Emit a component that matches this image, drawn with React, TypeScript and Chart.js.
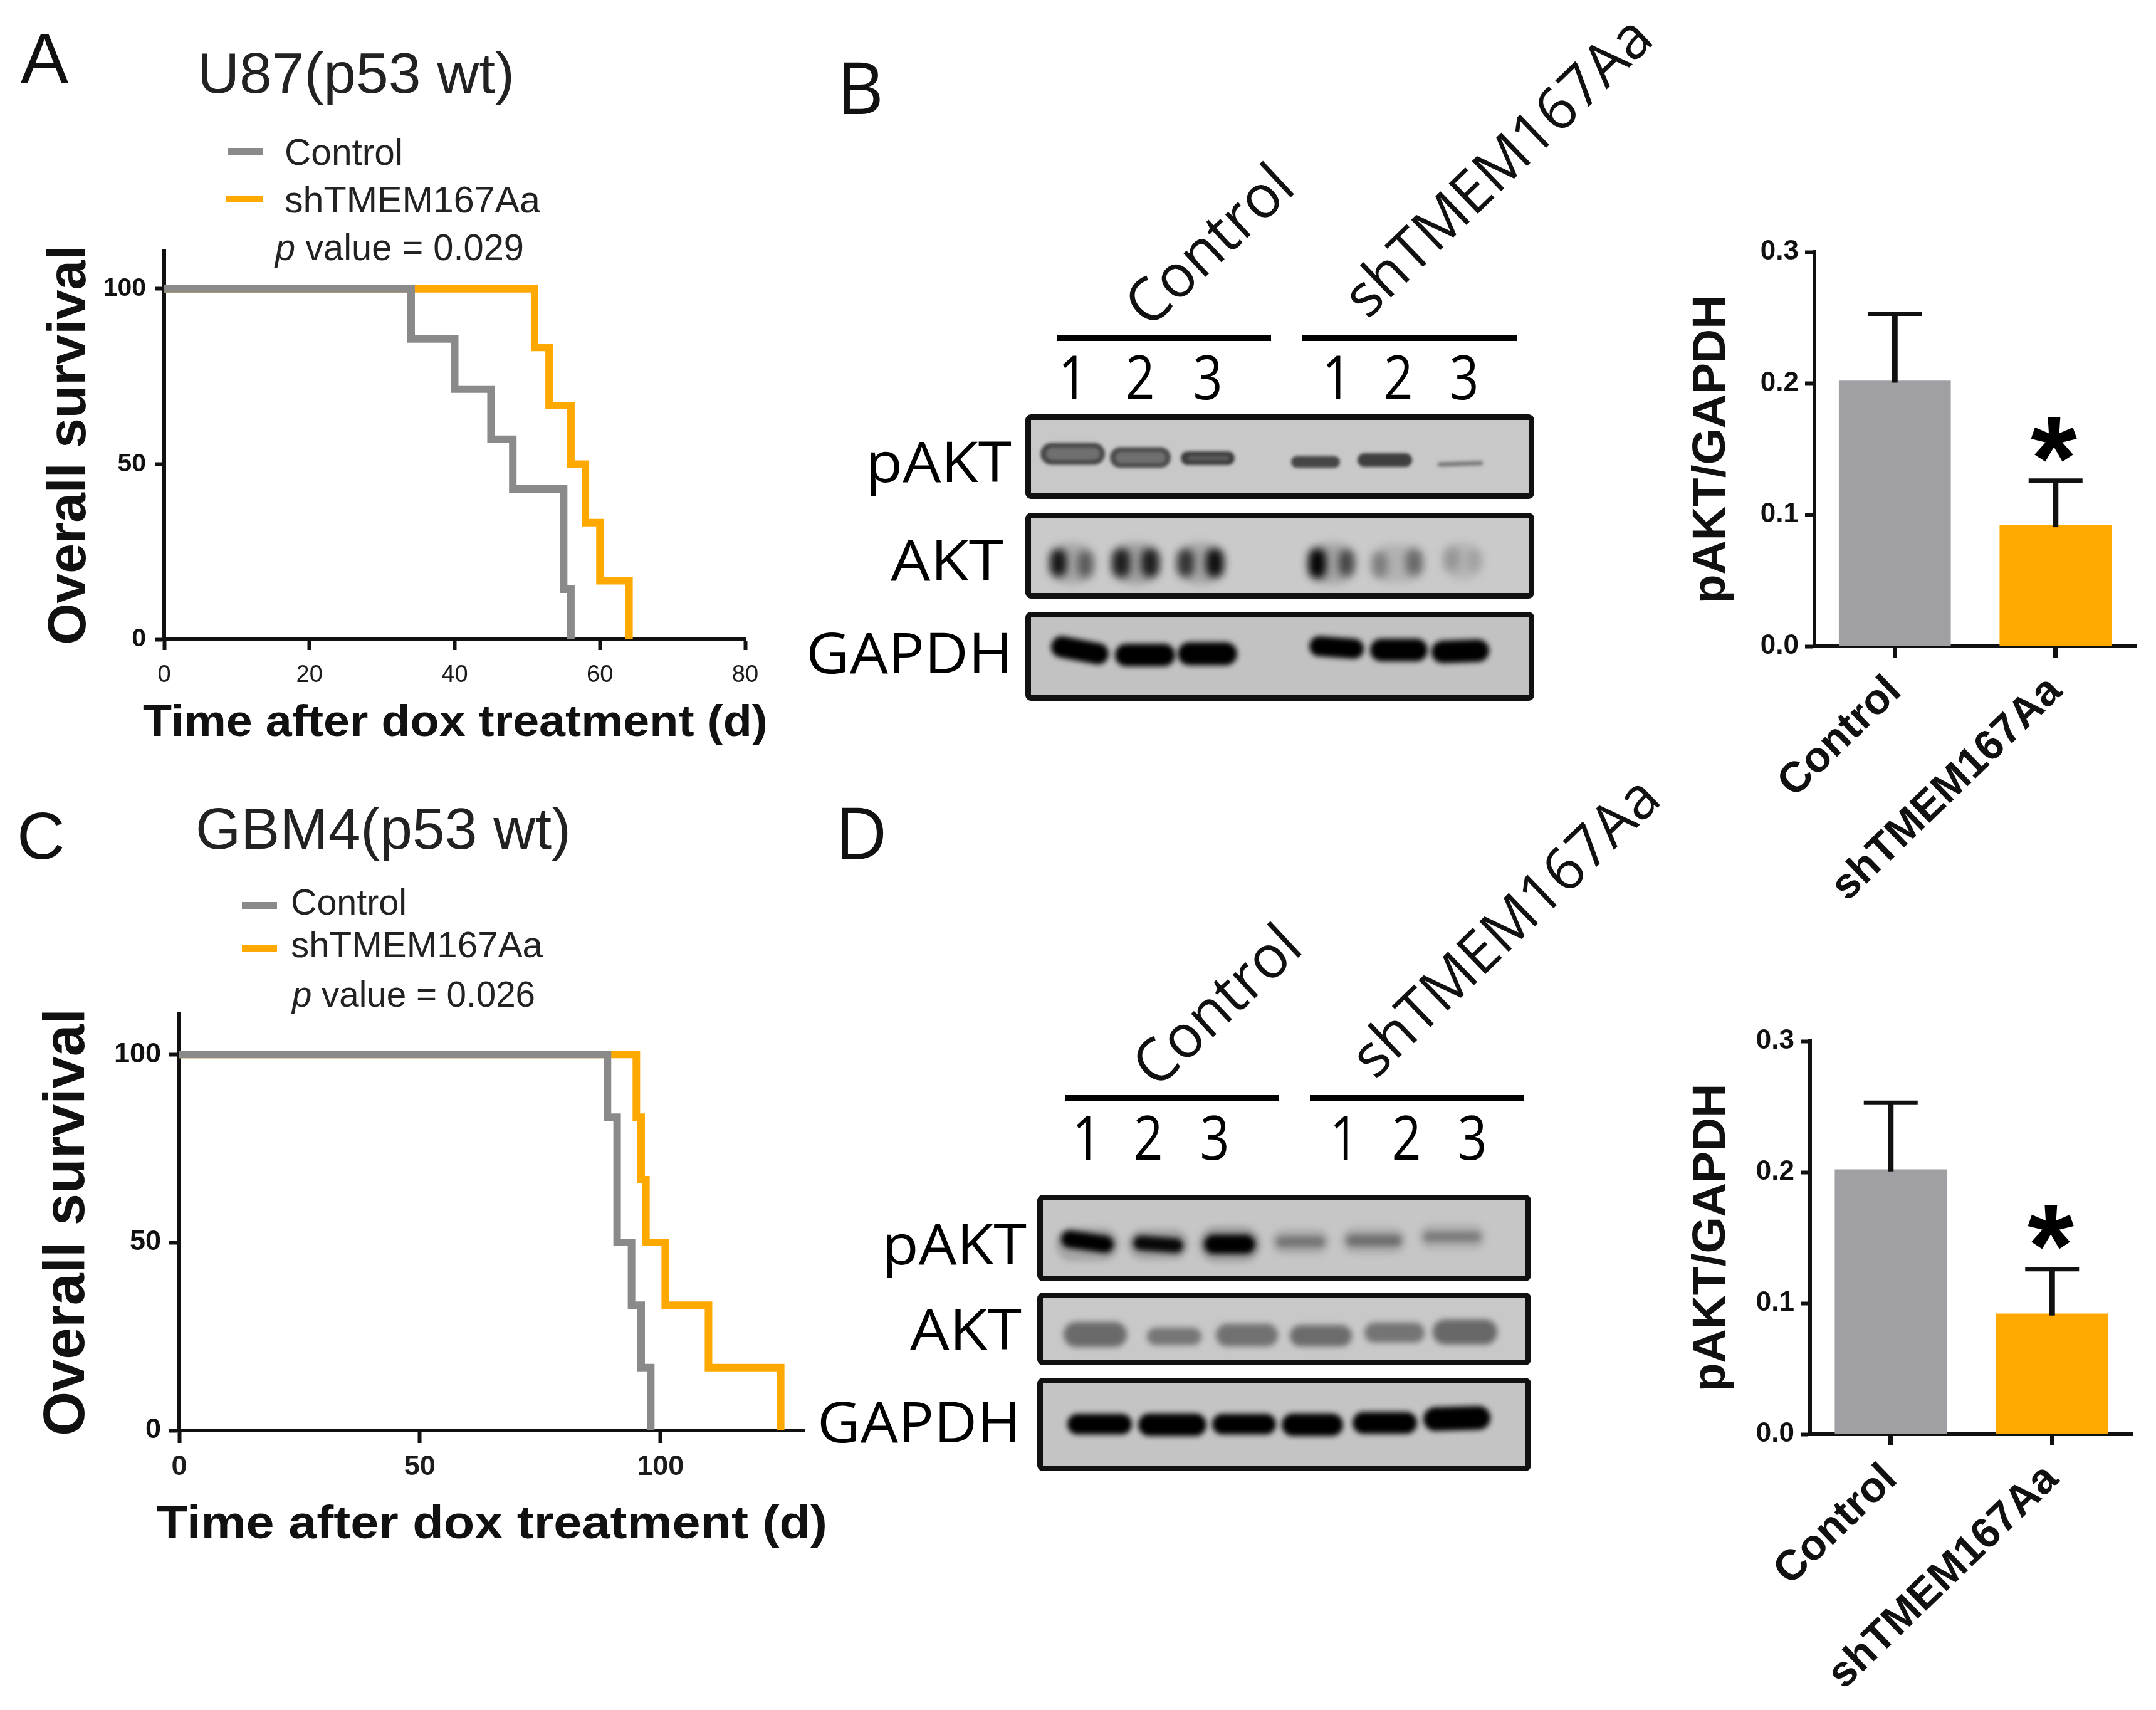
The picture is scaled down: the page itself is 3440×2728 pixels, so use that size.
import React, { useEffect, useRef } from "react";
import { Chart, registerables } from "chart.js";

Chart.register(...registerables);

const INK = "#111111";
const GREY = "#8a8a8a";
const ORANGE = "#ffa800";
const SANS = "'Liberation Sans', Arial, sans-serif";
const OPEN = "'Open Sans', sans-serif";

// Survival curves
const controlTimesA = [0, 34, 40, 45, 48, 55, 56];
const controlSurvA = [100, 85.7, 71.4, 57.1, 42.9, 14.3, 0];
const shTimesA = [0, 51, 53, 56, 58, 60, 64];
const shSurvA = [100, 83.3, 66.7, 50, 33.3, 16.7, 0];
const controlTimesC = [0, 89, 91, 94, 96, 98];
const controlSurvC = [100, 83.3, 50, 33.3, 16.7, 0];
const shTimesC = [0, 95, 96, 97, 101, 110, 125];
const shSurvC = [100, 83.3, 66.7, 50, 33.3, 16.7, 0];
const survivalTicks = [0, 50, 100];
const timeTicksA = [0, 20, 40, 60, 80];
const timeTicksC = [0, 50, 100];

// Bar panels
const barCategories = ["Control", "shTMEM167Aa"];
const ratioMeans = [0.202, 0.092];
const ratioUpper = [0.253, 0.126];

// Blot bands: [left, right, y at left, y at right, thickness, grey level]
type Band = number[];
const bPakt: Band[] = [
  [15, 118, 54, 54, 35, 72], [126, 223, 60, 60, 33, 76], [239, 325, 61, 61, 22, 62],
  [24, 110, 54, 54, 20, 112], [135, 215, 60, 60, 18, 112], [250, 316, 61, 61, 8, 92],
  [415, 493, 67, 67, 19, 70], [521, 608, 64, 64, 22, 62], [649, 721, 71, 69, 7, 118],
];
const bAkt: Band[] = [
  [29, 102, 72, 72, 66, 168], [129, 205, 72, 72, 66, 160], [232, 308, 72, 72, 66, 165],
  [442, 518, 72, 72, 66, 165], [542, 626, 72, 72, 60, 178], [657, 721, 68, 68, 60, 182],
  [44, 44, 62, 80, 26, 20], [86, 86, 64, 82, 24, 90], [144, 144, 62, 80, 28, 30], [190, 190, 62, 80, 28, 30],
  [247, 247, 62, 80, 26, 50], [293, 293, 62, 80, 28, 15], [457, 457, 62, 82, 28, 5], [503, 503, 62, 80, 24, 70],
  [557, 557, 66, 82, 24, 125], [611, 611, 62, 78, 26, 105], [672, 672, 58, 72, 24, 150], [706, 706, 60, 74, 20, 160],
];
const bGapdh: Band[] = [
  [32, 124, 47, 58, 34, 0], [134, 230, 60, 60, 36, 0], [234, 329, 58, 58, 37, 0],
  [444, 531, 46, 50, 32, 0], [541, 633, 52, 52, 36, 0], [639, 731, 55, 53, 36, 0],
];
const dPakt: Band[] = [
  [20, 122, 70, 70, 54, 165], [135, 233, 70, 70, 50, 165], [248, 348, 70, 70, 58, 160],
  [364, 458, 66, 66, 42, 175], [476, 580, 64, 64, 44, 175], [599, 707, 58, 58, 42, 178],
  [29, 113, 62, 70, 28, 0], [144, 224, 68, 72, 24, 8], [257, 339, 70, 70, 31, 0],
  [372, 450, 66, 66, 18, 118], [484, 572, 64, 64, 19, 112], [607, 699, 58, 58, 17, 125],
];
const dAkt: Band[] = [
  [33, 134, 58, 58, 40, 106], [166, 253, 61, 61, 28, 118], [276, 375, 59, 59, 36, 113],
  [394, 493, 60, 60, 34, 108], [513, 609, 55, 55, 32, 116], [622, 725, 54, 54, 40, 104],
];
const dGapdh: Band[] = [
  [39, 142, 65, 65, 33, 0], [152, 261, 66, 66, 36, 0], [270, 372, 65, 65, 33, 0],
  [381, 479, 66, 66, 36, 0], [494, 597, 63, 63, 35, 0], [607, 714, 57, 55, 38, 0],
];

const rowLabels = ["pAKT", "AKT", "GAPDH"];
const laneNames = ["1", "2", "3", "1", "2", "3"];

function zip(xs: number[], ys: number[]) {
  return xs.map((x, i) => ({ x, y: ys[i] }));
}

function Plot({ config, left, top, width, height }: any) {
  const ref = useRef<HTMLCanvasElement | null>(null);
  useEffect(() => {
    const chart = new Chart(ref.current as HTMLCanvasElement, config);
    return () => chart.destroy();
  }, []);
  return (
    <canvas
      ref={ref}
      width={width}
      height={height}
      style={{ position: "absolute", left, top, width, height, display: "block" }}
    />
  );
}

function survivalConfig(p: any) {
  const line = (label: string, data: any[], color: string) => ({
    label, data, borderColor: color, borderWidth: 12, stepped: true, pointRadius: 0,
    fill: false, borderJoinStyle: "miter", borderCapStyle: "butt", clip: false,
  });
  return {
    type: "line",
    data: {
      datasets: [
        line("Control", zip(p.ct, p.cs), GREY),
        line("shTMEM167Aa", zip(p.st, p.ss), ORANGE),
      ],
    },
    options: {
      responsive: false, animation: false, devicePixelRatio: 1,
      layout: { padding: { left: 0, top: p.padTop, right: p.padRight, bottom: 0 } },
      plugins: { legend: { display: false }, tooltip: { enabled: false } },
      scales: {
        x: {
          type: "linear", min: 0, max: p.xMax,
          afterFit: (s: any) => { s.height = p.xBox; },
          afterBuildTicks: (s: any) => { s.ticks = p.xTicks.map((value: number) => ({ value })); },
          border: { color: INK, width: 6 },
          grid: { drawOnChartArea: false, tickColor: INK, tickWidth: 6, tickLength: p.xTick },
          ticks: { color: "#1c1c1c", padding: p.xPad, maxRotation: 0, font: { family: SANS, size: p.xFont, weight: p.xWeight } },
        },
        y: {
          type: "linear", min: 0, max: 110.7,
          afterFit: (s: any) => { s.width = p.yBox; },
          afterBuildTicks: (s: any) => { s.ticks = survivalTicks.map((value) => ({ value })); },
          border: { color: INK, width: 6 },
          grid: { drawOnChartArea: false, tickColor: INK, tickWidth: 6, tickLength: p.yTick },
          ticks: { color: "#111111", padding: p.yPad, font: { family: SANS, size: p.yFont, weight: "bold" } },
        },
      },
    },
  };
}

function barConfig(p: any) {
  const errorBars = {
    id: "errorBars",
    afterDatasetsDraw(chart: any) {
      const { ctx, scales } = chart;
      ctx.save();
      ctx.strokeStyle = INK;
      ratioMeans.forEach((m, i) => {
        const cx = scales.x.getPixelForValue(i);
        const base = scales.y.getPixelForValue(m);
        const up = scales.y.getPixelForValue(ratioUpper[i]);
        ctx.lineWidth = 9;
        ctx.beginPath(); ctx.moveTo(cx, base + 3); ctx.lineTo(cx, up); ctx.stroke();
        ctx.lineWidth = 7;
        ctx.beginPath(); ctx.moveTo(cx - 43, up); ctx.lineTo(cx + 43, up); ctx.stroke();
      });
      ctx.restore();
    },
  };
  return {
    type: "bar",
    data: {
      labels: barCategories,
      datasets: [{ data: ratioMeans, backgroundColor: ["#a0a0a4", ORANGE], barThickness: 178, borderWidth: 0 }],
    },
    plugins: [errorBars],
    options: {
      responsive: false, animation: false, devicePixelRatio: 1,
      layout: { padding: { left: 0, top: p.padTop, right: p.padRight, bottom: 0 } },
      plugins: { legend: { display: false }, tooltip: { enabled: false } },
      scales: {
        x: {
          type: "category",
          afterFit: (s: any) => { s.height = p.xBox; },
          border: { color: INK, width: 6 },
          grid: { offset: false, drawOnChartArea: false, tickColor: INK, tickWidth: 7, tickLength: 18 },
          ticks: { color: "#111111", padding: 14, autoSkip: false, minRotation: 44, maxRotation: 44, font: { family: SANS, size: 68, weight: "bold" } },
        },
        y: {
          type: "linear", min: 0, max: 0.3,
          afterFit: (s: any) => { s.width = p.yBox; },
          border: { color: INK, width: 6 },
          grid: { drawOnChartArea: false, tickColor: INK, tickWidth: 6, tickLength: 15 },
          title: { display: true, text: "pAKT/GAPDH", color: "#111111", padding: { top: p.titlePad, bottom: 0 }, font: { family: SANS, size: 75, weight: "bold" } },
          ticks: { color: "#111111", padding: 10, stepSize: 0.1, callback: (v: any) => Number(v).toFixed(1), font: { family: SANS, size: 44, weight: "bold" } },
        },
      },
    },
  };
}

function blotConfig(bands: Band[], w: number, h: number, blur: number) {
  const softEdges = {
    id: "softEdges",
    beforeDatasetsDraw(chart: any) { chart.ctx.save(); chart.ctx.filter = `blur(${blur}px)`; },
    afterDatasetsDraw(chart: any) { chart.ctx.restore(); },
  };
  const datasets = bands.map(([l, r, yl, yr, t, g]) => {
    const inset = r - l > t ? t / 2 : 0;
    return {
      data: [{ x: l + inset, y: yl }, { x: r - inset, y: yr }],
      borderWidth: t, borderColor: `rgb(${g},${g},${g})`, borderCapStyle: "round",
      pointRadius: 0, tension: 0, fill: false, clip: false,
    };
  }).reverse();
  return {
    type: "line",
    data: { datasets },
    plugins: [softEdges],
    options: {
      responsive: false, animation: false, devicePixelRatio: 1,
      plugins: { legend: { display: false }, tooltip: { enabled: false } },
      scales: {
        x: { type: "linear", display: false, min: 0, max: w },
        y: { type: "linear", display: false, min: 0, max: h, reverse: true },
      },
    },
  };
}

function Blot({ left, top, width, height, bands, blur, bg }: any) {
  const iw = width - 18;
  const ih = height - 18;
  return (
    <div style={{ position: "absolute", left, top, width: iw, height: ih, border: `9px solid ${INK}`, borderRadius: 9, background: bg }}>
      <Plot config={blotConfig(bands, iw, ih, blur)} left={0} top={0} width={iw} height={ih} />
    </div>
  );
}

function T({ x, y, s, size, weight, family, fill, len, rot, anchor, sx, children }: any) {
  const tf = `translate(${x} ${y})${rot ? ` rotate(${rot})` : ""}${sx ? ` scale(${sx} 1)` : ""}`;
  return (
    <text
      transform={tf}
      fontSize={size}
      fontWeight={weight || "normal"}
      fontFamily={family || SANS}
      fill={fill || "#111"}
      textAnchor={anchor || "start"}
      {...(len ? { textLength: len, lengthAdjust: "spacingAndGlyphs" } : {})}
    >
      {s}
      {children}
    </text>
  );
}

function Overlay() {
  const blotHead = (dx: number, dy: number, digits: number[]) => (
    <>
      <rect x={1687 + dx} y={534 + dy} width={341} height={10} fill="#000" />
      <rect x={2078 + dx} y={534 + dy} width={342} height={10} fill="#000" />
      <T x={1833 + dx} y={526 + dy} s={barCategories[0]} size={96} family={OPEN} rot={-43} len={325} />
      <T x={2182 + dx} y={511 + dy} s={barCategories[1]} size={94} family={OPEN} rot={-44} len={640} />
      {laneNames.map((n, i) => (
        <T key={i} x={digits[i]} y={637 + dy} s={n} size={97} family={OPEN} anchor="middle" sx={0.85} fill="#000" />
      ))}
    </>
  );
  return (
    <svg width={3440} height={2728} style={{ position: "absolute", left: 0, top: 0, pointerEvents: "none" }}>
      {/* Panel letters */}
      <T x={33} y={132} s="A" size={114} />
      <T x={1335} y={182} s="B" size={116} family={OPEN} />
      <T x={27} y={1370} s="C" size={106} />
      <T x={1332} y={1371} s="D" size={116} family={OPEN} />

      {/* Panel A text */}
      <T x={315} y={148} s="U87(p53 wt)" size={90} len={506} fill="#222" />
      <rect x={363} y={236} width={57} height={11} fill={GREY} />
      <rect x={361} y={312} width={58} height={11} fill={ORANGE} />
      <T x={454} y={263} s="Control" size={59} len={189} fill="#222" />
      <T x={454} y={339} s="shTMEM167Aa" size={59} len={408} fill="#222" />
      <T x={439} y={415} size={59} len={397} fill="#222"><tspan fontStyle="italic">p</tspan> value = 0.029</T>
      <T x={136} y={1029} s="Overall survival" size={86} weight="bold" rot={-90} len={638} fill="#111" />
      <T x={228} y={1174} s="Time after dox treatment (d)" size={70} weight="bold" len={997} fill="#111" />

      {/* Panel C text */}
      <T x={312} y={1354} s="GBM4(p53 wt)" size={92} len={599} fill="#222" />
      <rect x={386} y={1439} width={56} height={11} fill={GREY} />
      <rect x={386} y={1507} width={56} height={11} fill={ORANGE} />
      <T x={464} y={1459} s="Control" size={57} len={185} fill="#222" />
      <T x={464} y={1527} s="shTMEM167Aa" size={58} len={402} fill="#222" />
      <T x={466} y={1606} size={58} len={388} fill="#222"><tspan fontStyle="italic">p</tspan> value = 0.026</T>
      <T x={134} y={2291} s="Overall survival" size={92} weight="bold" rot={-90} len={682} fill="#111" />
      <T x={250} y={2454} s="Time after dox treatment (d)" size={75} weight="bold" len={1070} fill="#111" />

      {/* Blot headers and row labels */}
      {blotHead(0, 0, [1712, 1819, 1927, 2133, 2231, 2336])}
      {blotHead(12, 1213, [1734, 1832, 1938, 2145, 2244, 2349])}
      <T x={1381} y={769} s={rowLabels[0]} size={90} family={OPEN} len={233} fill="#000" />
      <T x={1421} y={926} s={rowLabels[1]} size={90} family={OPEN} len={180} fill="#000" />
      <T x={1286} y={1074} s={rowLabels[2]} size={90} family={OPEN} len={330} fill="#000" />
      <T x={1407} y={2017} s={rowLabels[0]} size={90} family={OPEN} len={231} fill="#000" />
      <T x={1452} y={2153} s={rowLabels[1]} size={90} family={OPEN} len={178} fill="#000" />
      <T x={1304} y={2301} s={rowLabels[2]} size={90} family={OPEN} len={325} fill="#000" />

      {/* Significance marks */}
      <T x={3277} y={796} s="*" size={190} weight="bold" anchor="middle" fill="#000" />
      <T x={3272} y={2052} s="*" size={190} weight="bold" anchor="middle" fill="#000" />
    </svg>
  );
}

const panelA = {
  ct: controlTimesA, cs: controlSurvA, st: shTimesA, ss: shSurvA, xMax: 80, xTicks: timeTicksA,
  padTop: 71, padRight: 111, xBox: 160, yBox: 262, xTick: 17, yTick: 15, xPad: 18, yPad: 14,
  xFont: 38, xWeight: "normal", yFont: 41,
};
const panelC = {
  ct: controlTimesC, cs: controlSurvC, st: shTimesC, ss: shSurvC, xMax: 130, xTicks: timeTicksC,
  padTop: 68, padRight: 116, xBox: 162, yBox: 286, xTick: 20, yTick: 17, xPad: 12, yPad: 12,
  xFont: 45, xWeight: "bold", yFont: 45,
};

export default function App() {
  return (
    <div style={{ position: "absolute", left: 0, top: 0, width: 3440, height: 2728, background: "#fff", overflow: "hidden" }}>
      <Plot config={survivalConfig(panelA)} left={0} top={330} width={1300} height={850} />
      <Plot config={survivalConfig(panelC)} left={0} top={1550} width={1400} height={894} />
      <Plot config={barConfig({ padTop: 62, padRight: 32, xBox: 449, yBox: 255, titlePad: 46 })} left={2640} top={340} width={800} height={1140} />
      <Plot config={barConfig({ padTop: 61, padRight: 37, xBox: 440, yBox: 248, titlePad: 46 })} left={2640} top={1600} width={800} height={1128} />

      <Blot left={1636} top={661} width={812} height={135} bands={bPakt} blur={2.5} bg="#c8c8c8" />
      <Blot left={1636} top={818} width={812} height={137} bands={bAkt} blur={7} bg="#cacaca" />
      <Blot left={1636} top={976} width={812} height={142} bands={bGapdh} blur={4} bg="#c2c2c2" />
      <Blot left={1655} top={1906} width={788} height={138} bands={dPakt} blur={5} bg="#c6c6c6" />
      <Blot left={1655} top={2062} width={788} height={116} bands={dAkt} blur={5} bg="#c8c8c8" />
      <Blot left={1655} top={2198} width={788} height={149} bands={dGapdh} blur={4} bg="#c4c4c4" />

      <Overlay />
    </div>
  );
}
